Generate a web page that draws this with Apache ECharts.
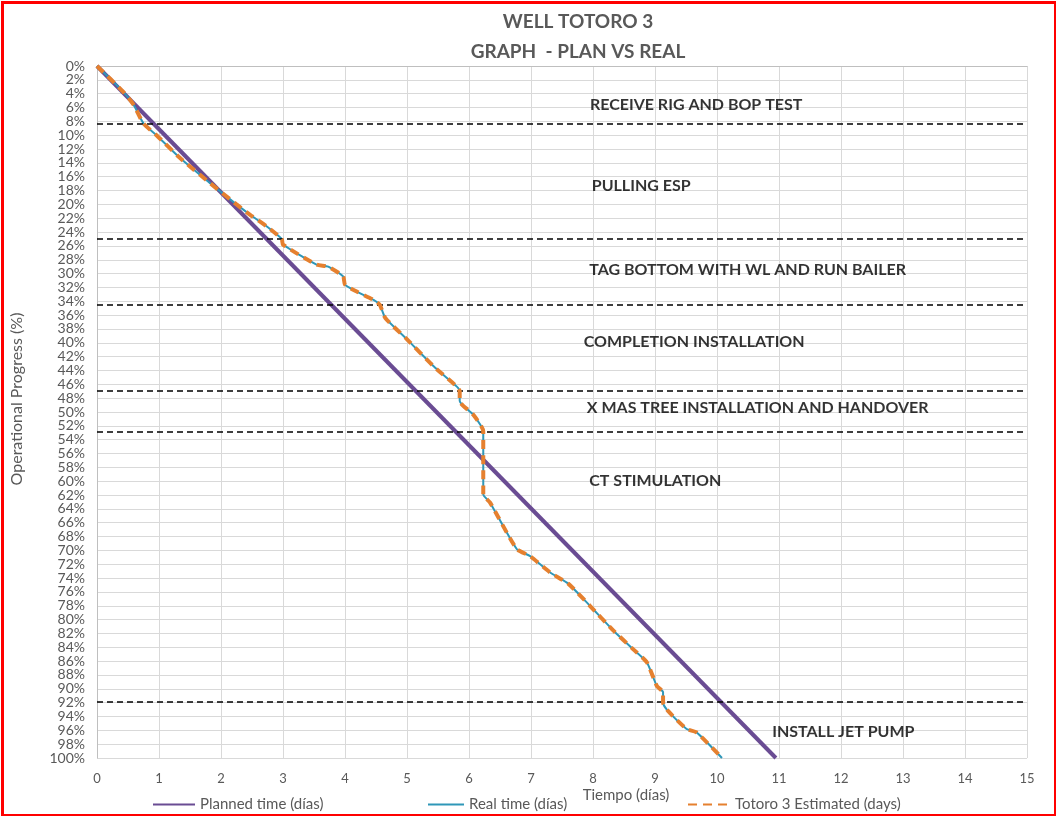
<!DOCTYPE html>
<html>
<head>
<meta charset="utf-8">
<script src="https://cdn.jsdelivr.net/npm/echarts@6/dist/echarts.min.js"></script>
<style>
html,body{margin:0;padding:0;background:#fff;}
#chart{width:1056px;height:816px;}
</style>
</head>
<body>
<div id="chart"></div>
<script>
// ---- data ----
var plannedDays = [0, 10.95];
var plannedProgress = [0, 100];

var realDays = [0, 0.42, 0.59, 0.75, 0.96, 1.34, 1.82, 2.25, 2.47, 2.74, 2.98, 3.0, 3.54, 3.73, 3.97, 4.0, 4.19, 4.46, 4.56, 4.65, 5.0, 5.43, 5.8, 5.85, 5.85, 6.07, 6.23, 6.23, 6.34, 6.77, 6.98, 7.31, 7.6, 7.95, 8.33, 8.65, 8.87, 9.03, 9.13, 9.13, 9.21, 9.51, 9.67, 10.08];
var realProgress = [0, 3.7, 5.6, 8.3, 10, 13.3, 16.9, 20, 21.5, 23.2, 25, 25.8, 28.7, 29, 30.4, 31.6, 32.6, 33.8, 34.5, 36.4, 39.5, 43.4, 46.3, 47, 48.4, 50.4, 52.8, 61.9, 63.1, 69.8, 70.8, 73.2, 74.8, 78, 81.6, 84.3, 86.2, 89.6, 90.5, 92, 93.2, 95.8, 96.3, 100];

var estimatedDays = realDays;
var estimatedProgress = realProgress;

var phaseBoundaries = [8.3, 25, 34.5, 47, 52.9, 91.9];
var phaseLabels = ['RECEIVE RIG AND BOP TEST', 'PULLING ESP', 'TAG BOTTOM WITH WL AND RUN BAILER', 'COMPLETION INSTALLATION', 'X MAS TREE INSTALLATION AND HANDOVER', 'CT STIMULATION', 'INSTALL JET PUMP'];
var phaseLabelDays = [7.95, 7.98, 7.94, 7.85, 7.9, 7.94, 10.89];
var phaseLabelProgress = [5.6, 17.3, 29.5, 39.9, 49.4, 60, 96.2];

var seriesNames = ['Planned time (días)', 'Real time (días)', 'Totoro 3 Estimated (days)'];

function pairs(xs, ys) { return xs.map(function (x, i) { return [x, ys[i]]; }); }

var FONT = 'Lato, "Open Sans", sans-serif';
var legendBase = { top: 792, itemHeight: 2, itemGap: 2, itemStyle: { opacity: 0 }, textStyle: { color: '#595959', fontSize: 15, fontFamily: FONT, padding: [0, 0, 0, 0] } };
function legendAt(name, left, w) { return Object.assign({}, legendBase, { data: [name], left: left, itemWidth: w }); }

var chart = echarts.init(document.getElementById('chart'));
chart.setOption({
  backgroundColor: '#fff',
  animation: false,
  graphic: [
    { type: 'rect', left: 0, top: 0, shape: { x: 1.5, y: 1.5, width: 1053, height: 813 }, style: { fill: 'none', stroke: '#ff0000', lineWidth: 3 }, z: 100 },
    { type: 'text', x: 578, y: 22, style: { text: 'WELL TOTORO 3', font: 'bold 19px ' + FONT, fill: '#595959', align: 'center', verticalAlign: 'middle' } },
    { type: 'text', x: 578, y: 52, style: { text: 'GRAPH  - PLAN VS REAL', font: 'bold 19px ' + FONT, fill: '#595959', align: 'center', verticalAlign: 'middle' } },
    { type: 'text', x: 626, y: 795, style: { text: 'Tiempo (días)', font: '15px ' + FONT, fill: '#595959', align: 'center', verticalAlign: 'middle' } },
    { type: 'text', x: 17, y: 399, rotation: Math.PI / 2, style: { text: 'Operational Progress (%)', font: '16px ' + FONT, fill: '#595959', align: 'center', verticalAlign: 'middle' } }
  ],
  grid: { left: 97, right: 29, top: 66, bottom: 58, containLabel: false, outerBoundsMode: 'none' },
  legend: [
    legendAt(seriesNames[0], 147, 42),
    legendAt(seriesNames[1], 422, 36),
    legendAt(seriesNames[2], 682, 42)
  ],
  xAxis: {
    type: 'value', min: 0, max: 15, interval: 1,
    axisLine: { show: true, lineStyle: { color: '#bfbfbf' } },
    axisTick: { show: false },
    axisLabel: { color: '#595959', fontSize: 13, fontFamily: FONT, margin: 14 },
    splitLine: { show: true, lineStyle: { color: '#d9d9d9', width: 1 } }
  },
  yAxis: {
    type: 'value', inverse: true, min: 0, max: 100, interval: 2,
    axisLine: { show: true, lineStyle: { color: '#bfbfbf' } },
    axisTick: { show: false },
    axisLabel: { color: '#595959', fontSize: 14, fontFamily: FONT, formatter: '{value}%', interval: 0, margin: 12 },
    splitLine: { show: true, lineStyle: { color: '#d9d9d9', width: 1 } }
  },
  series: [
    {
      name: seriesNames[0], type: 'line', data: pairs(plannedDays, plannedProgress),
      symbol: 'none', lineStyle: { color: '#6a4c93', width: 4 }, itemStyle: { color: '#6a4c93' }, z: 3
    },
    {
      name: seriesNames[1], type: 'line', data: pairs(realDays, realProgress),
      symbol: 'none', smooth: 0.2, lineStyle: { color: '#2f97b8', width: 2 }, itemStyle: { color: '#2f97b8' }, z: 4
    },
    {
      name: seriesNames[2], type: 'line', data: pairs(estimatedDays, estimatedProgress),
      symbol: 'none', smooth: 0.2, lineStyle: { color: '#e5802f', width: 4, type: [9, 6] }, itemStyle: { color: '#e5802f' }, z: 5,
      markLine: {
        silent: true, symbol: ['none', 'none'], label: { show: false },
        lineStyle: { color: '#000', width: 1.5, type: [6, 4] },
        data: phaseBoundaries.map(function (v) { return { yAxis: v }; })
      }
    },
    {
      name: 'labels', type: 'scatter', symbolSize: 0, silent: true, z: 6,
      data: phaseLabelDays.map(function (d, i) { return [d, phaseLabelProgress[i], phaseLabels[i]]; }),
      label: {
        show: true, position: 'right', distance: 0,
        formatter: function (p) { return p.data[2]; },
        color: '#000', fontSize: 16, fontWeight: 'bold', fontFamily: FONT
      }
    }
  ]
});
</script>
</body>
</html>
